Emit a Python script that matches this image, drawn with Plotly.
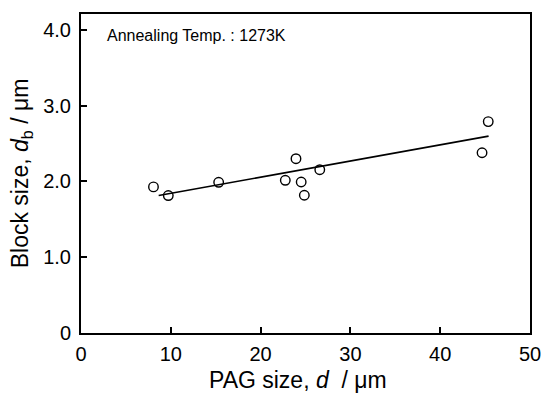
import plotly.graph_objects as go

pag_size = [8.07, 9.72, 15.33, 22.75, 23.94, 24.52, 24.87, 26.59, 44.66, 45.35]
block_size = [1.928, 1.814, 1.989, 2.015, 2.30, 1.993, 1.818, 2.155, 2.379, 2.79]
fit_x = [8.65, 45.39]
fit_y = [1.814, 2.598]
x_ticks = [0, 10, 20, 30, 40, 50]
y_ticks = [0, 1, 2, 3, 4]
y_tick_labels = ["0", "1.0", "2.0", "3.0", "4.0"]

FONT = "Liberation Sans, Arial, sans-serif"

fig = go.Figure()
fig.add_trace(go.Scatter(x=fit_x, y=fit_y, mode="lines",
                         line=dict(color="black", width=1.6), showlegend=False))
fig.add_trace(go.Scatter(x=pag_size, y=block_size, mode="markers",
                         marker=dict(symbol="circle-open", size=9.5, color="black",
                                     line=dict(width=1.4, color="black")),
                         showlegend=False))

fig.add_annotation(x=2.7, y=3.93, xref="x", yref="y", text="Annealing Temp. : 1273K",
                   showarrow=False, xanchor="left", yanchor="middle",
                   font=dict(family=FONT, size=16, color="black"))

# x-axis title placed as annotation to sit at the bottom edge like the reference
fig.add_annotation(x=0.483, y=-0.146, xref="paper", yref="paper",
                   text="PAG size, <i>d</i>  / μm", showarrow=False,
                   xanchor="center", yanchor="middle",
                   font=dict(family=FONT, size=23, color="black"))

fig.update_layout(
    width=542, height=393,
    margin=dict(l=81, r=12, t=14, b=60),
    paper_bgcolor="white", plot_bgcolor="white",
    font=dict(family=FONT, color="black"),
    xaxis=dict(range=[0, 50], tickvals=x_ticks, ticks="inside", ticklen=6, tickwidth=1.5,
               tickcolor="black", showgrid=False, zeroline=False, automargin=False,
               showline=True, linecolor="black", linewidth=2, mirror=True,
               tickfont=dict(size=20, family=FONT), ticklabelstandoff=2),
    yaxis=dict(range=[0, 4.21], tickvals=y_ticks, ticktext=y_tick_labels, ticks="inside",
               ticklen=6, tickwidth=1.5, tickcolor="black", showgrid=False, zeroline=False,
               automargin=False,
               showline=True, linecolor="black", linewidth=2, mirror=True,
               tickfont=dict(size=20, family=FONT), ticklabelstandoff=4,
               title=dict(text="Block size, <i>d</i><sub>b</sub> / μm",
                          font=dict(size=23, family=FONT), standoff=8)),
)

fig.write_html("out.html")
